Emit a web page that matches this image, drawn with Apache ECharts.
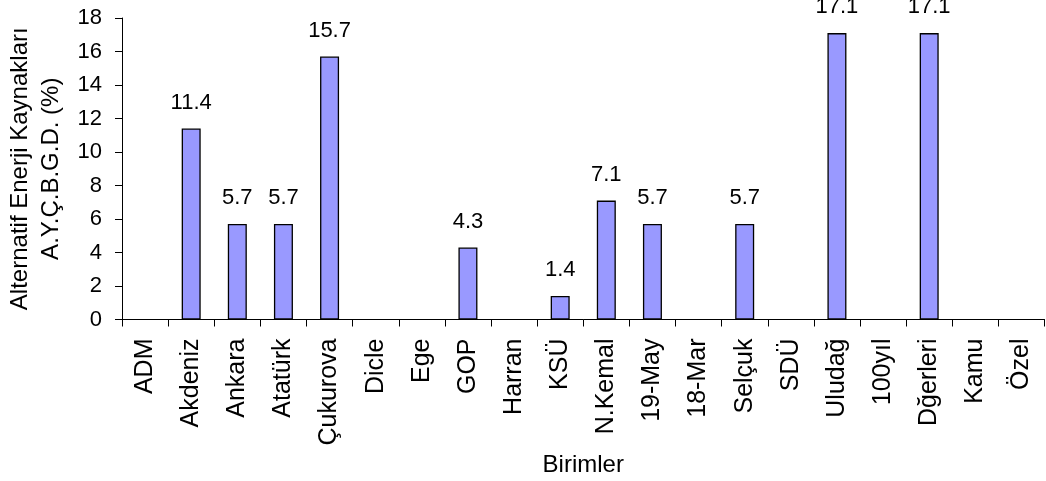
<!DOCTYPE html>
<html>
<head>
<meta charset="utf-8">
<script src="https://cdn.jsdelivr.net/npm/echarts@6/dist/echarts.min.js"></script>
<style>
html,body{margin:0;padding:0;background:#fff;}
#c{width:1046px;height:481px;}
</style>
</head>
<body>
<div id="c"></div>
<script>
const categories = ['ADM','Akdeniz','Ankara','Atatürk','Çukurova','Dicle','Ege','GOP','Harran','KSÜ','N.Kemal','19-May','18-Mar','Selçuk','SDÜ','Uludağ','100yıl','Dğerleri','Kamu','Özel'];
const values = [0, 11.4, 5.7, 5.7, 15.7, 0, 0, 4.3, 0, 1.4, 7.1, 5.7, 0, 5.7, 0, 17.1, 0, 17.1, 0, 0];
const yTitle = 'Alternatif Enerji Kaynakları\nA.Y.Ç.B.G.D. (%)';
const xTitle = 'Birimler';

const FONT = '"Liberation Sans", Arial, sans-serif';
const chart = echarts.init(document.getElementById('c'), null, {renderer: 'canvas'});
chart.setOption({
  animation: false,
  backgroundColor: '#fff',
  grid: {left: 122, right: 1.5, top: 18, bottom: 161.5, containLabel: false, outerBoundsMode: 'none'},
  xAxis: {
    type: 'category',
    data: categories,
    boundaryGap: true,
    name: xTitle,
    nameLocation: 'middle',
    nameGap: 122,
    nameTextStyle: {fontFamily: FONT, fontSize: 24, color: '#000'},
    axisLine: {lineStyle: {color: '#000', width: 1}},
    axisTick: {show: true, length: 7, alignWithLabel: false, lineStyle: {color: '#000'}},
    axisLabel: {rotate: 90, interval: 0, margin: 19, fontFamily: FONT, fontSize: 25, color: '#000'},
    splitLine: {show: false}
  },
  yAxis: {
    type: 'value',
    min: 0, max: 18, interval: 2,
    name: yTitle,
    nameLocation: 'middle',
    nameRotate: 90,
    nameGap: 51,
    nameTextStyle: {fontFamily: FONT, fontSize: 24, color: '#000', lineHeight: 31},
    axisLine: {show: true, lineStyle: {color: '#000', width: 1}},
    axisTick: {show: true, length: 7, lineStyle: {color: '#000'}},
    axisLabel: {margin: 20, fontFamily: FONT, fontSize: 22, color: '#000'},
    splitLine: {show: false}
  },
  series: [{
    type: 'bar',
    data: values.map(v => ({value: v, itemStyle: v === 0 ? {borderWidth: 0} : {}})),
    barWidth: 19,
    itemStyle: {color: '#9999FF', borderColor: '#000', borderWidth: 1.3},
    label: {
      show: true,
      position: 'top',
      distance: 15,
      fontFamily: FONT,
      fontSize: 22,
      color: '#000',
      formatter: p => p.value === 0 ? '' : String(p.value)
    }
  }]
});
</script>
</body>
</html>
